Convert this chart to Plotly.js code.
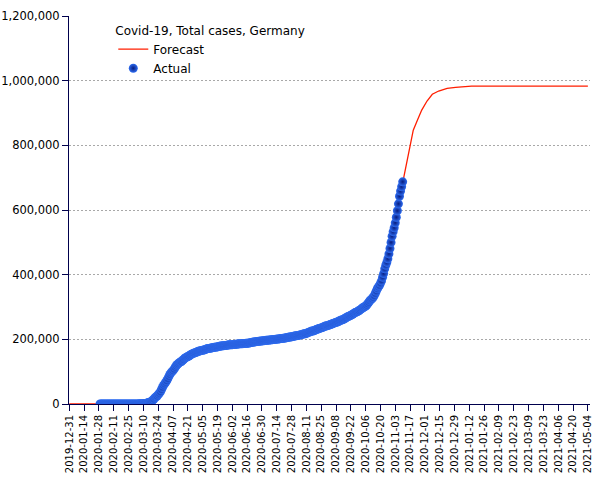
<!DOCTYPE html>
<html>
<head>
<meta charset="utf-8">
<script src="https://cdn.plot.ly/plotly-3.0.1.min.js"></script>
<style>
  html, body { margin: 0; padding: 0; background: #fff; }
  #chart { width: 605px; height: 480px; }
</style>
</head>
<body>
<div id="chart"></div>
<script>
// ---- Data ----
const actualStart = '2020-01-29';
const actualCases = [
  // Jan 29-31
  4, 4, 4,
  // Feb
  5, 8, 10, 12, 12, 12, 12, 13, 13, 14, 14, 16, 16, 16, 16, 16, 16, 16, 16, 16, 16, 16, 16, 16, 16, 17, 27, 46, 48,
  // Mar
  79, 130, 159, 196, 262, 482, 670, 799, 1040, 1176, 1457, 1908, 2078, 3675, 4585, 5795, 7272, 9257, 12327, 15320,
  19848, 22213, 24873, 29056, 32986, 37323, 43938, 50871, 57695, 62095, 66885,
  // Apr
  71808, 77872, 84794, 91159, 96092, 100123, 103374, 107663, 113296, 118181, 122171, 124908, 127854, 130072, 131359,
  134753, 137698, 141397, 143342, 145184, 147065, 148291, 150648, 153129, 154999, 156513, 157770, 158758, 159912, 161539,
  // May
  163009, 164077, 164967, 165664, 166152, 167007, 168162, 169430, 170588, 171324, 171879, 172576, 173171, 174098, 174478,
  175233, 175752, 176369, 176551, 177778, 178473, 179021, 179710, 179986, 180328, 180600, 181200, 181524, 182196, 182922, 183189,
  // Jun
  183410, 183594, 183879, 184121, 184472, 184924, 185450, 185750, 186109, 186506, 186522, 186691, 187226, 187267, 187518,
  187682, 188252, 188604, 189817, 190299, 190670, 191449, 192079, 192556, 193243, 193499, 194036, 194458, 194693, 195042,
  // Jul
  195418, 195893, 196370, 196780, 197198, 197523, 197771, 198178, 198556, 198963, 199375, 199726, 200180, 200456, 200890,
  201372, 201823, 202345, 202799, 203325, 203717, 204183, 204881, 205623, 206242, 206926, 207112, 207828, 208546, 209653, 210402,
  // Aug
  211281, 211281, 212022, 212828, 213067, 214214, 215210, 216196, 217288, 217293, 218519, 219964, 221413, 222828, 224014,
  225404, 225404, 226700, 228120, 229706, 231292, 232082, 233861, 234494, 235429, 236429, 237936, 239507, 240986, 242126, 242381,
  // Sep
  243599, 244855, 246015, 247411, 248840, 249985, 251058, 252298, 253474, 254474, 256850, 258149, 259735, 260355, 261737,
  263663, 265857, 267773, 270070, 271415, 272337, 274158, 275927, 278070, 280223, 282730, 284140, 285026, 287421, 289219,
  // Oct
  291722, 294395, 296958, 299237, 300619, 303258, 306086, 310144, 314660, 319381, 322864, 325331, 329453, 334585, 341223,
  348557, 356387, 361974, 366299, 373167, 380762, 392049, 403291, 418005, 429181, 437866, 449275, 464239, 481013, 499694, 518753,
  // Nov 1-10
  532930, 545027, 560379, 577593, 597583, 619089, 642488, 658505, 671868, 687200
];

const forecastDates = [
  '2019-12-31', '2020-02-20', '2020-03-01', '2020-03-08', '2020-03-15', '2020-03-22', '2020-03-29',
  '2020-04-05', '2020-04-12', '2020-04-19', '2020-04-26', '2020-05-10', '2020-05-31', '2020-06-30',
  '2020-07-31', '2020-08-31', '2020-09-30', '2020-10-15', '2020-10-25', '2020-11-01', '2020-11-06',
  '2020-11-10', '2020-11-14', '2020-11-17', '2020-11-20', '2020-11-24', '2020-11-28', '2020-12-03',
  '2020-12-08', '2020-12-14', '2020-12-22', '2020-12-30', '2021-01-14', '2021-05-04'
];
const forecastCases = [
  0, 16, 79, 799, 4585, 22213, 57695,
  96092, 124908, 143342, 156513, 171324, 183189, 195042,
  210402, 242381, 289219, 341223, 429181, 532930, 619089,
  687200, 754000, 806000, 847000, 878000, 909000, 937000,
  958000, 968000, 976000, 979000, 983000, 983000
];

const chartTitle = 'Covid-19, Total cases, Germany';
const seriesNames = ['Forecast', 'Actual'];

// daily dates for the actual series
function dailyDates(start, n) {
  const out = [];
  const d0 = new Date(start + 'T00:00:00Z');
  for (let i = 0; i < n; i++) {
    const d = new Date(d0.getTime() + i * 86400000);
    out.push(d.toISOString().slice(0, 10));
  }
  return out;
}
const actualDates = dailyDates(actualStart, actualCases.length);

const navy = '#00004d';
const font = 'DejaVu Sans, Verdana, sans-serif';

const traces = [
  {
    type: 'scatter', mode: 'lines', name: seriesNames[0],
    x: forecastDates, y: forecastCases,
    line: { color: 'rgb(255,30,0)', width: 1.3 },
    hoverinfo: 'skip'
  },
  {
    type: 'scatter', mode: 'markers', name: seriesNames[1],
    x: actualDates, y: actualCases,
    marker: {
      size: 9, color: '#2e6cf0',
      gradient: { type: 'radial', color: '#061c80' },
      line: { width: 0 }
    }
  }
];

const layout = {
  width: 605, height: 480,
  margin: { l: 69, r: 15, t: 16, b: 76 },
  paper_bgcolor: '#fff', plot_bgcolor: '#fff',
  showlegend: true,
  legend: {
    x: 0.085, y: 0.992, xanchor: 'left', yanchor: 'top',
    bgcolor: 'rgba(0,0,0,0)',
    font: { family: font, size: 12, color: '#000' },
    title: { text: chartTitle, font: { family: font, size: 12, color: '#000' } },
    tracegroupgap: 0
  },
  xaxis: {
    type: 'date',
    range: ['2019-12-30 17:00', '2021-05-06 00:00'],
    tick0: '2019-12-31', dtick: 14 * 86400000,
    tickformat: '%Y-%m-%d', tickangle: -90,
    ticks: 'outside', ticklen: 6, tickcolor: navy, tickwidth: 1,
    showline: true, linecolor: navy, linewidth: 1,
    showgrid: false, zeroline: false,
    tickfont: { family: font, size: 10, color: '#000' }
  },
  yaxis: {
    range: [0, 1200000], dtick: 200000, tick0: 0,
    tickformat: ',d',
    ticks: 'outside', ticklen: 6, tickcolor: navy, tickwidth: 1,
    showline: true, linecolor: navy, linewidth: 1,
    showgrid: true, gridcolor: '#a8a8a8', gridwidth: 1, griddash: '2px,2px',
    zeroline: false,
    tickfont: { family: font, size: 11.5, color: '#000' }
  }
};

Plotly.newPlot('chart', traces, layout, { staticPlot: true, displayModeBar: false });
</script>
</body>
</html>
